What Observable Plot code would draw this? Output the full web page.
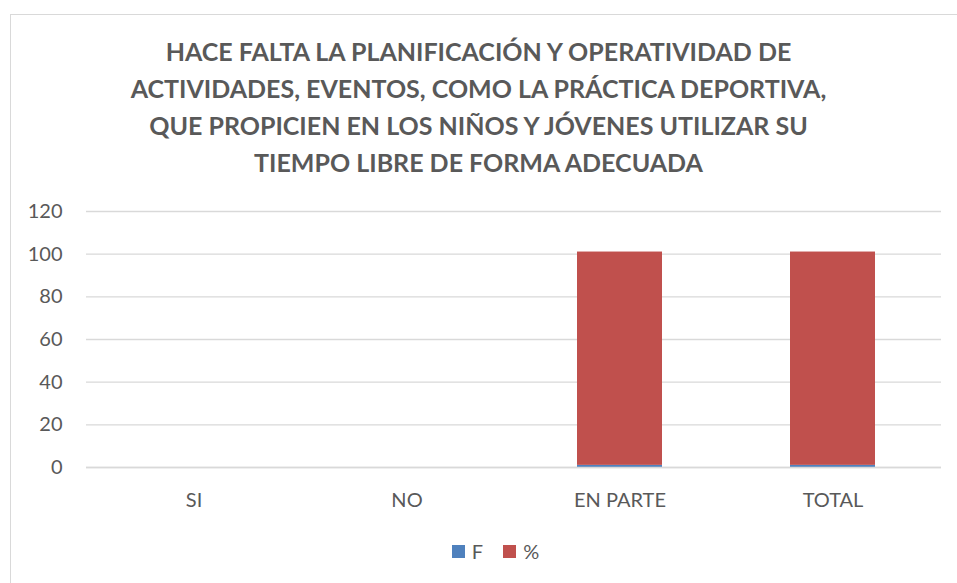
<!DOCTYPE html>
<html>
<head>
<meta charset="utf-8">
<script src="https://cdn.jsdelivr.net/npm/d3@7"></script>
<script src="https://cdn.jsdelivr.net/npm/@observablehq/plot@0.6"></script>
<style>
  html, body { margin: 0; padding: 0; background: #fff; overflow: hidden; }
  body { width: 957px; height: 583px; position: relative; font-family: Lato, "Open Sans", sans-serif; }
  #frame { position: absolute; left: 10px; top: 14px; width: 980px; height: 600px; border: 1.5px solid #d9d9d9; box-sizing: border-box; }
  #title { position: absolute; left: 0; width: 957px; top: 33px; text-align: center; font-weight: bold; font-size: 25px; line-height: 37px; color: #595959; }
  #chart { position: absolute; left: 0; top: 190px; }
  #legend { position: absolute; top: 539px; left: 17px; width: 957px; display: flex; justify-content: center; gap: 20px; font-size: 20px; color: #595959; }
  #legend span.item { display: flex; align-items: center; gap: 7px; }
  #legend span.sw { display: inline-block; width: 13px; height: 13px; }
</style>
</head>
<body>
<div id="frame"></div>
<div id="title">HACE FALTA LA PLANIFICACIÓN Y OPERATIVIDAD DE<br>ACTIVIDADES, EVENTOS, COMO LA PRÁCTICA DEPORTIVA,<br>QUE PROPICIEN EN LOS NIÑOS Y JÓVENES UTILIZAR SU<br>TIEMPO LIBRE DE FORMA ADECUADA</div>
<div id="chart"></div>
<div id="legend"></div>
<script>
const categories = ["SI", "NO", "EN PARTE", "TOTAL"];
const seriesNames = ["F", "%"];
const valuesF = [0, 0, 1, 1];
const valuesPct = [0, 0, 100, 100];
const yTicks = [0, 20, 40, 60, 80, 100, 120];
const colors = ["#4f81bd", "#c0504d"];

const data = [];
categories.forEach((c, i) => {
  data.push({cat: c, series: "F", value: valuesF[i]});
  data.push({cat: c, series: "%", value: valuesPct[i]});
});

const chart = Plot.plot({
  width: 957,
  height: 327,
  marginLeft: 86,
  marginRight: 16,
  marginTop: 21,
  marginBottom: 50,
  style: {fontFamily: "Lato, 'Open Sans', sans-serif", fontSize: "20px", color: "#595959", background: "transparent"},
  x: {domain: categories, label: null, paddingInner: 0.6, paddingOuter: 0.3, tickSize: 0, tickPadding: 25},
  y: {domain: [0, 120], ticks: yTicks, label: null, tickSize: 0, tickPadding: 24},
  color: {domain: seriesNames, range: colors},
  marks: [
    Plot.gridY(yTicks, {stroke: "#d9d9d9", strokeOpacity: 1, strokeWidth: 1.3}),
    Plot.barY(data, {x: "cat", y: "value", fill: "series", order: seriesNames}),
    Plot.ruleY([0], {stroke: "#d9d9d9", strokeWidth: 1.5})
  ]
});
document.getElementById("chart").appendChild(chart);

const legend = document.getElementById("legend");
seriesNames.forEach((s, i) => {
  const item = document.createElement("span");
  item.className = "item";
  const sw = document.createElement("span");
  sw.className = "sw";
  sw.style.background = colors[i];
  item.appendChild(sw);
  item.appendChild(document.createTextNode(s));
  legend.appendChild(item);
});
</script>
</body>
</html>
